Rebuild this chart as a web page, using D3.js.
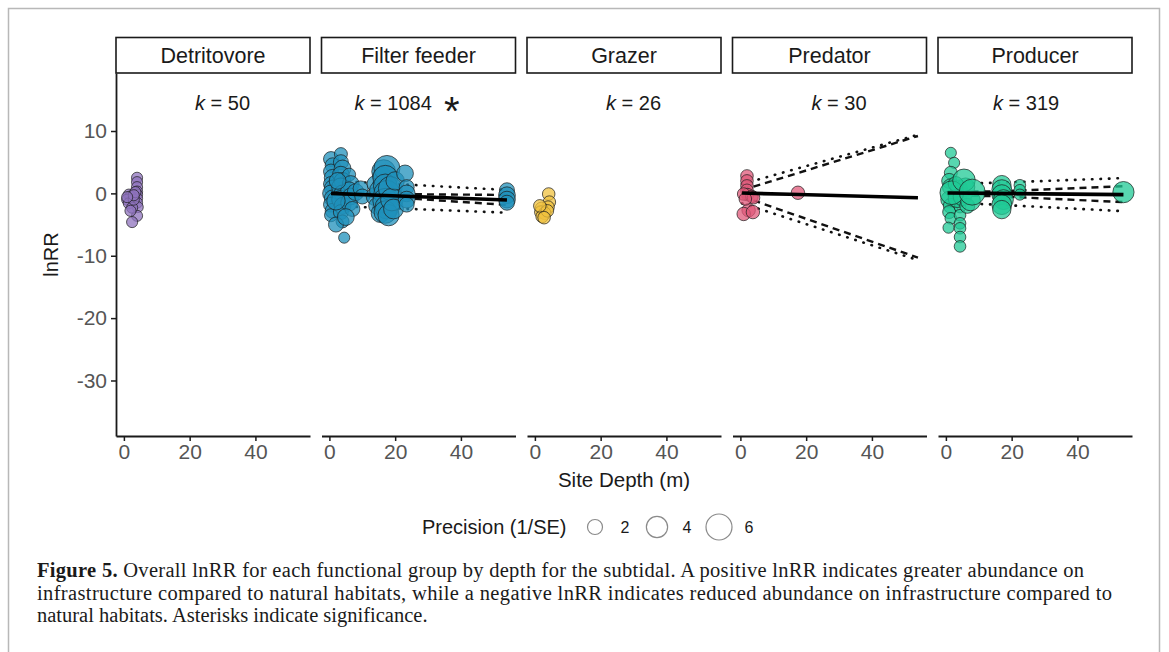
<!DOCTYPE html>
<html>
<head>
<meta charset="utf-8">
<script src="https://cdn.jsdelivr.net/npm/d3@7"></script>
<style>
	body { margin: 0; background: #fff; }
	svg text { font-family: "Liberation Sans", Arial, sans-serif; }
	svg text.caption { font-family: "Liberation Serif", "Times New Roman", serif; }
</style>
</head>
<body>
<div id="chart"></div>
<script>
// ---- data (depth m, lnRR, precision 1/SE) ----
const groups		= ['Detritovore', 'Filter feeder', 'Grazer', 'Predator', 'Producer'];
const kValues		= [50, 1084, 26, 30, 319];
const significant	= [false, true, false, false, false];
const xTicks		= [0, 20, 40];
const yTicks		= [-30, -20, -10, 0, 10];
const legendValues	= [2, 4, 6];

const detritovorePoints = [
	[4, 2.5, 1.1], [4, 1.8, 1.1], [4, 1.0, 1.1], [4, 0.3, 1.1], [4, -0.2, 1.1], [4, -0.8, 1.1],
	[4, -1.5, 1.1], [4.2, -2.2, 1.1], [4, -3.6, 1.1], [2.5, -4.6, 1.1], [1.5, -0.2, 1.1], [2, -0.5, 1.1],
	[1, -1.0, 1.1], [1.5, -1.6, 1.1], [2.5, -2.3, 1.1], [3, -1.0, 1.1], [3.5, 0.2, 1.1], [2, -2.8, 1.1],
	[3, -0.3, 1.1], [1, -0.6, 1.1]
];

const filterFeederPoints = [
	[0.5, 5.5, 2], [1, 4.5, 2], [0.5, 3.5, 2], [1, 2.5, 2.5], [0.5, 1.5, 2], [1, 0.8, 2.5], [0.5, 0.0, 2.5],
	[1, -0.8, 2.5], [0.5, -1.8, 2], [1, -2.8, 2], [0.5, -3.5, 1.5],
	[3.5, 6.3, 1.5], [3.5, 5.0, 2], [4, 4.0, 2.5], [3.5, 3.0, 2.5], [4, 2.0, 2.5], [3.5, 1.0, 3], [4, 0.0, 2.5],
	[3.5, -1.0, 3], [4, -2.0, 2.5], [3.5, -3.0, 2], [4, -4.5, 1.5], [4.5, -7.1, 1.1],
	[6, 3.0, 1.5], [6.5, 1.5, 2.5], [6, 0.5, 2.5], [6.5, -0.5, 2.5], [6, -1.5, 2.5], [7, -2.5, 2],
	[2, -1.2, 3], [2.5, 2.0, 2.5], [8, 0.2, 2.5], [9.5, 0.8, 2], [10, -0.5, 2], [2, -5.0, 2], [5, -3.8, 2.5],
	[14, 1.5, 2.5], [14, -0.5, 3], [14.5, -2.0, 2.5], [15, 0.5, 3], [16, 2.8, 3], [15.5, -3.2, 3],
	[16.5, 3.5, 5], [17.5, 4.0, 6], [17, 2.5, 5.5], [17, 1.2, 5], [17.5, 0.0, 6], [17, -1.2, 5.5],
	[17.5, -2.2, 5], [17, -3.0, 4.5], [18, -3.5, 4], [18.5, 0.8, 5], [19, -1.0, 4.5], [20, 2.0, 3], [19.5, -2.5, 3.5],
	[23, 3.2, 2.5], [23.5, 1.0, 2], [23.5, 0.0, 2.5], [23.5, -1.0, 2.5], [23.5, -1.8, 2],
	[54, 0.5, 2], [54, -0.3, 2.5], [54, -1.0, 2.5], [54, -1.5, 2]
];

const grazerPoints = [
	[4.2, -0.1, 1.4], [4.4, -1.4, 1.4], [4.0, -2.2, 1.4], [2.0, -2.4, 1.4], [1.8, -3.0, 1.4],
	[3.0, -3.2, 1.4], [2.2, -3.7, 1.4], [3.8, -2.8, 1.4], [1.5, -2.0, 1.4], [2.8, -3.9, 1.4]
];

const predatorPoints = [
	[2, 2.8, 1.4], [2, 2.0, 1.4], [2, 1.2, 1.4], [2, 0.5, 1.4], [2.2, -0.2, 1.4], [1, -0.1, 1.4],
	[3.5, -0.5, 1.4], [4, -0.7, 1.4], [2.5, -2.7, 1.6], [1, -3.3, 1.6], [3.8, -3.0, 1.6],
	[1.5, -0.9, 1.4], [17.5, 0.1, 1.6]
];

const producerPoints = [
	[1.5, 6.5, 1.1], [2.5, 4.9, 1.1], [1.5, 3.3, 1.5], [1, 2.0, 2], [1.5, 1.0, 2.5], [1, -1.0, 2.5],
	[1.5, -2.0, 2], [1, -3.0, 1.5], [1.5, -4.0, 1.2], [0.8, -5.5, 1.1],
	[4.3, -2.2, 1.2], [4.3, -3.5, 1.2], [4.3, -4.8, 1.2], [4.3, -5.6, 1.2], [4.3, -7.0, 1.2], [4.3, -8.5, 1.2],
	[4, 0.8, 2.5], [3.5, -0.8, 3], [5, -0.5, 3], [6, 1.0, 3], [3, 1.5, 2], [6.5, -2.0, 2], [7.5, -1.2, 3.5],
	[1.8, 0.1, 5], [5.5, 2.1, 4.5], [8, 0.2, 6],
	[16.5, 0.0, 2], [17, 1.4, 3], [17, 0.6, 3.5], [17, -0.2, 3.5], [17.5, -1.0, 3.5], [17, -1.8, 3.5], [17, -2.6, 3],
	[22.5, 1.3, 1.2], [22.5, 0.5, 1.2], [22.5, -0.2, 1.1], [54, 0.2, 4]
];

// meta-regression lines, values at trendDepths
const trendDepths = [0.5, 15, 54];

const filterFeederFit		= [0.0, -0.3, -1.05];
const filterFeederCiUpper	= [0.3, -0.1, -0.25];
const filterFeederCiLower	= [-0.3, -0.5, -1.85];
const filterFeederPiUpper	= [2.0, 1.65, 0.55];
const filterFeederPiLower	= [-2.0, -2.3, -3.1];

const predatorFit		= [0.05, -0.15, -0.7];
const predatorCiUpper	= [0.5, 2.86, 9.2];
const predatorCiLower	= [-0.5, -3.16, -10.3];
const predatorPiUpper	= [1.5, 3.64, 9.4];
const predatorPiLower	= [-1.6, -4.07, -10.7];

const producerFit		= [0.05, 0.0, -0.2];
const producerCiUpper	= [0.3, 0.3, 1.15];
const producerCiLower	= [-0.3, -0.45, -1.4];
const producerPiUpper	= [1.5, 1.7, 2.45];
const producerPiLower	= [-1.5, -1.8, -2.85];

// ---- assembly ----
const pointSets	= [detritovorePoints, filterFeederPoints, grazerPoints, predatorPoints, producerPoints];
const trends	= [
	null,
	{ fit: filterFeederFit, ci: [filterFeederCiUpper, filterFeederCiLower], pi: [filterFeederPiUpper, filterFeederPiLower] },
	null,
	{ fit: predatorFit, ci: [predatorCiUpper, predatorCiLower], pi: [predatorPiUpper, predatorPiLower] },
	{ fit: producerFit, ci: [producerCiUpper, producerCiLower], pi: [producerPiUpper, producerPiLower] }
];
const colors		= ['#8f73bd', '#1f90bb', '#f0c13f', '#e0587a', '#20c996'];
const kLabelDepth	= [30, 19.4, 30, 30, 24.4];

const W = 1169, H = 652;
const panelLeft = 116, panelW = 194, panelGap = 11.5;
const panelTop = 73, panelBottom = 436, stripTop = 37.5;

let x = d3.scaleLinear().domain([-2.4, 56.6]).range([0, panelW]);
let y = d3.scaleLinear().domain([-38.9, 19.3]).range([panelBottom, panelTop]);
let r = d3.scaleSqrt().domain([0, 6]).range([0, 13]);

let svg = d3.select('#chart').append('svg')
		.attr('width', W)
		.attr('height', H);

// figure frame
svg.append('path')
	.attr('d', 'M8.5,' + H + ' V8.5 H1159.5 V' + H)
	.attr('fill', 'none')
	.attr('stroke', '#b8b8b8')
	.attr('stroke-width', 1.5);

let line = (vals) => d3.line()
	.x((d) => x(d))
	.y((d, j) => y(vals[j]))(trendDepths);

groups.forEach((name, i) => {
	let g = svg.append('g')
		.attr('transform', 'translate(' + (panelLeft + i * (panelW + panelGap)) + ',0)');

	// strip
	g.append('rect')
		.attr('x', 0).attr('y', stripTop)
		.attr('width', panelW).attr('height', panelTop - stripTop)
		.attr('fill', '#fff').attr('stroke', '#1a1a1a').attr('stroke-width', 1.6);
	g.append('text')
		.attr('x', panelW / 2).attr('y', (stripTop + panelTop) / 2)
		.attr('dy', '0.36em')
		.attr('text-anchor', 'middle')
		.attr('font-size', 21.5)
		.attr('fill', '#1a1a1a')
		.text(name);

	// k label
	let kt = g.append('text')
		.attr('x', x(kLabelDepth[i])).attr('y', 110)
		.attr('text-anchor', 'middle')
		.attr('font-size', 20)
		.attr('fill', '#1a1a1a');
	kt.append('tspan').attr('font-style', 'italic').text('k');
	kt.append('tspan').text(' = ' + kValues[i]);

	if (significant[i]) {
		g.append('text')
			.attr('x', x(37.2)).attr('y', 125)
			.attr('text-anchor', 'middle')
			.attr('font-size', 40)
			.attr('fill', '#1a1a1a')
			.text('*');
	}

	let t = trends[i];
	if (t) {
		t.ci.forEach((vals) => {
			g.append('path').attr('d', line(vals))
				.attr('fill', 'none').attr('stroke', '#111').attr('stroke-width', 2.4)
				.attr('stroke-dasharray', '7,5');
		});
		t.pi.forEach((vals) => {
			g.append('path').attr('d', line(vals))
				.attr('fill', 'none').attr('stroke', '#111').attr('stroke-width', 2.6)
				.attr('stroke-linecap', 'round')
				.attr('stroke-dasharray', '0.5,8');
		});
	}

	g.selectAll('.pt')
		.data(pointSets[i])
		.enter().append('circle')
		.attr('class', 'pt')
		.attr('cx', (d) => x(d[0]))
		.attr('cy', (d) => y(d[1]))
		.attr('r', (d) => r(d[2]))
		.attr('fill', colors[i])
		.attr('fill-opacity', 0.75)
		.attr('stroke', '#1c1c1c')
		.attr('stroke-opacity', 0.7)
		.attr('stroke-width', 1);

	if (t) {
		g.append('path').attr('d', line(t.fit))
			.attr('fill', 'none').attr('stroke', '#000').attr('stroke-width', 3.6);
	}

	// x axis
	let xa = g.append('g')
		.attr('transform', 'translate(0,' + panelBottom + ')')
		.call(d3.axisBottom(x).tickValues(xTicks).tickSize(5).tickSizeOuter(0).tickPadding(3));
	xa.select('.domain').attr('stroke', '#1a1a1a').attr('stroke-width', 1.8);
	xa.selectAll('.tick line').attr('stroke', '#1a1a1a').attr('stroke-width', 1.5);
	xa.selectAll('.tick text').attr('font-size', 21).attr('fill', '#555').attr('font-family', null);

	if (i === 0) {
		let ya = g.append('g')
			.call(d3.axisLeft(y).tickValues(yTicks).tickSize(5).tickSizeOuter(0).tickPadding(4)
				.tickFormat((d) => String(d)));
		ya.select('.domain').attr('stroke', '#1a1a1a').attr('stroke-width', 1.8);
		ya.selectAll('.tick line').attr('stroke', '#1a1a1a').attr('stroke-width', 1.5);
		ya.selectAll('.tick text').attr('font-size', 21).attr('fill', '#555').attr('font-family', null);
	}
});

// axis titles
svg.append('text')
	.attr('transform', 'translate(58,' + ((panelTop + panelBottom) / 2) + ') rotate(-90)')
	.attr('text-anchor', 'middle')
	.attr('font-size', 20)
	.attr('fill', '#1a1a1a')
	.text('lnRR');

svg.append('text')
	.attr('x', (panelLeft + panelLeft + 5 * panelW + 4 * panelGap) / 2)
	.attr('y', 487)
	.attr('text-anchor', 'middle')
	.attr('font-size', 20.5)
	.attr('fill', '#1a1a1a')
	.text('Site Depth (m)');

// size legend
let legend = svg.append('g').attr('transform', 'translate(0,527)');
legend.append('text')
	.attr('x', 422).attr('dy', '0.36em')
	.attr('font-size', 20).attr('fill', '#1a1a1a')
	.text('Precision (1/SE)');
let legendX = d3.scalePoint().domain(legendValues).range([595, 719]);
legendValues.forEach((v) => {
	legend.append('circle')
		.attr('cx', legendX(v)).attr('cy', 0).attr('r', r(v))
		.attr('fill', 'none').attr('stroke', '#8a8a8a').attr('stroke-width', 1.2);
	legend.append('text')
		.attr('x', legendX(v) + 30).attr('dy', '0.36em')
		.attr('text-anchor', 'middle')
		.attr('font-size', 16).attr('fill', '#1a1a1a')
		.text(v);
});

// caption
let cap1 = svg.append('text').attr('class', 'caption')
	.attr('x', 37).attr('y', 577).attr('font-size', 20.5).attr('fill', '#1a1a1a')
	.attr('textLength', 1047).attr('lengthAdjust', 'spacing');
cap1.append('tspan').attr('font-weight', 'bold').text('Figure 5.');
cap1.append('tspan').text(' Overall lnRR for each functional group by depth for the subtidal. A positive lnRR indicates greater abundance on');

svg.append('text').attr('class', 'caption')
	.attr('x', 37).attr('y', 599.5).attr('font-size', 20.5).attr('fill', '#1a1a1a')
	.attr('textLength', 1075).attr('lengthAdjust', 'spacing')
	.text('infrastructure compared to natural habitats, while a negative lnRR indicates reduced abundance on infrastructure compared to');

svg.append('text').attr('class', 'caption')
	.attr('x', 37).attr('y', 622).attr('font-size', 20.5).attr('fill', '#1a1a1a')
	.text('natural habitats. Asterisks indicate significance.');
</script>
</body>
</html>
